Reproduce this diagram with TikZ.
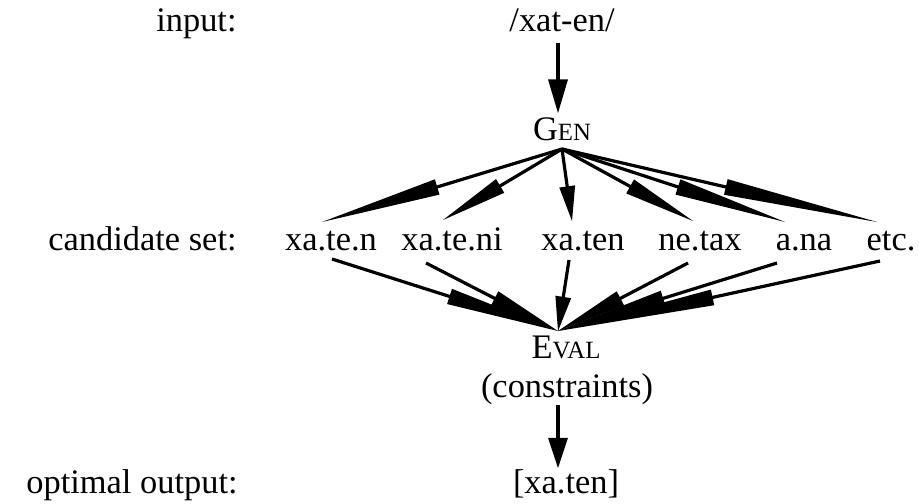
\documentclass[tikz,border=0pt]{standalone}
\usepackage{fontspec}
\setmainfont{Liberation Serif}
\usetikzlibrary{calc}
\tikzset{
  lbl/.style={inner sep=0pt, font=\fontsize{17.2}{20}\selectfont},
  conn/.style={line width=1.6pt},
}
\newcommand\smc[2]{#1{\fontsize{12.4}{14}\selectfont #2}}
% #1 half width of head, #2 start, #3 tip
\newcommand\taparrow[3]{%
  \draw[conn] (#2) -- ($(#2)!0.6!(#3)$);
  \path (#2) -- (#3) coordinate[pos=0.52] (hb);
  \fill ($(hb)!#1!90:(#3)$) -- (#3) -- ($(hb)!#1!-90:(#3)$) -- cycle;
}
\begin{document}
\begin{tikzpicture}[x=0.5pt,y=-0.5pt]
\useasboundingbox (0,0) rectangle (919,503);
% labels
\node[lbl,anchor=base east] (linput) at (237,31) {input:};
\node[lbl,anchor=base east] (lcand) at (237,250) {candidate set:};
\node[lbl,anchor=base east] (lopt) at (238,493) {optimal output:};
% main column
\node[lbl,anchor=base] (inp) at (562,32) {/xat-en/};
\node[lbl,anchor=base] (gen) at (562,140) {\smc{G}{EN}};
\node[lbl,anchor=base] (eval) at (566,358) {\smc{E}{VAL}};
\node[lbl,anchor=base] (cons) at (567,397) {(constraints)};
\node[lbl,anchor=base] (out) at (566,493) {[xa.ten]};
% candidates
\node[lbl,anchor=base] (c1) at (331,250) {xa.te.n};
\node[lbl,anchor=base] (c2) at (452,250) {xa.te.ni};
\node[lbl,anchor=base] (c3) at (583,250) {xa.ten};
\node[lbl,anchor=base] (c4) at (700,250) {ne.tax};
\node[lbl,anchor=base] (c5) at (804,250) {a.na};
\node[lbl,anchor=base] (c6) at (891,250) {etc.};
% connector end points
\coordinate (inpb) at (558,43);
\coordinate (gent) at (558,113);
\coordinate (genb) at (562,149);
\coordinate (evalt) at (558,331);
\coordinate (consb) at (558,405);
\coordinate (outt) at (558,468);
\coordinate (c1t) at (322,222);
\coordinate (c2t) at (443,220);
\coordinate (c3t) at (572,221);
\coordinate (c4t) at (693,221);
\coordinate (c5t) at (785,222);
\coordinate (c6t) at (877,222);
\coordinate (c1b) at (332,259);
\coordinate (c2b) at (426,263);
\coordinate (c3b) at (569,260);
\coordinate (c4b) at (688,263);
\coordinate (c5b) at (777,263);
\coordinate (c6b) at (880,261);
% arrows
\taparrow{5pt}{inpb}{gent}
\taparrow{5pt}{consb}{outt}
\foreach \i in {1,...,6}{
  \taparrow{4pt}{genb}{c\i t}
  \taparrow{4pt}{c\i b}{evalt}
}
\end{tikzpicture}
\end{document}
